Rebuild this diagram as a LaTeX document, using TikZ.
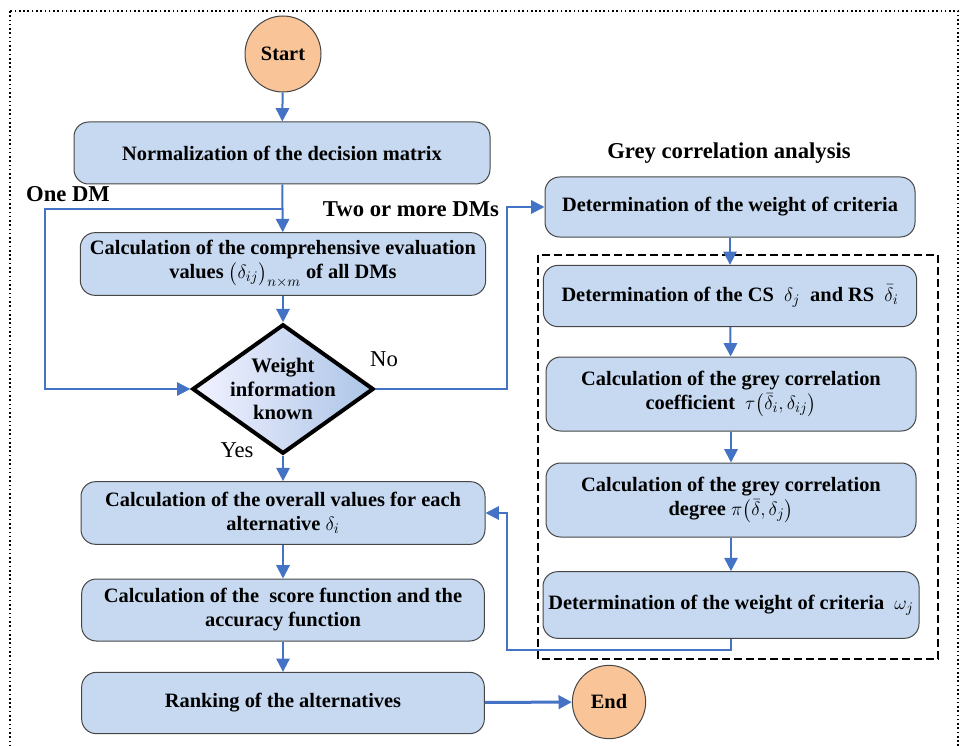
\documentclass[tikz,border=0pt]{standalone}
\usepackage{amsmath}
\usepackage{fontspec}
\setmainfont{Liberation Serif}
\usetikzlibrary{arrows.meta,shapes.geometric}

\definecolor{boxblue}{RGB}{198,217,240}
\definecolor{boxline}{RGB}{70,70,70}
\definecolor{linkblue}{RGB}{68,114,196}
\definecolor{termorange}{RGB}{248,196,152}

\tikzset{
  flowbox/.style={draw=boxline, fill=boxblue, rounded corners=11pt, line width=0.75pt,
    align=center, inner sep=2pt, font=\fontsize{15.3}{18}\selectfont\bfseries},
  terminal/.style={circle, draw=boxline, fill=termorange, line width=0.75pt, inner sep=0pt,
    font=\fontsize{15.3}{18}\selectfont\bfseries},
  decision/.style={diamond, draw=black, line width=3pt, left color=blue!5, right color=boxblue!80!linkblue,
    align=center, inner sep=-7pt, font=\fontsize{15.5}{17.5}\selectfont\bfseries},
  link/.style={draw=linkblue, line width=1.5pt, -{Triangle[length=10pt,width=10pt]}},
  plain/.style={font=\fontsize{17}{20}\selectfont},
  heading/.style={font=\fontsize{17}{20}\selectfont\bfseries},
}

\begin{document}
\begin{tikzpicture}[x=0.75pt,y=0.75pt,yscale=-1,xscale=1]
\useasboundingbox (0,0) rectangle (962,745);
%Dotted frame
\draw [dotted, line width=1.2pt] (10,11) rectangle (958,760);
%Dashed frame
\draw [dashed, line width=1.2pt, dash pattern=on 6pt off 3pt] (538,255) rectangle (938,659);

% Start / End
\draw (283,54) node [terminal, minimum size=57pt] (start) {Start};
\draw (609,702) node [terminal, minimum size=55pt] (end) {End};

%Rounded Rect (left column)
\draw (282,153) node [flowbox, minimum width=312pt, minimum height=46.5pt] (norm) {Normalization of the decision matrix};
\draw (283,264) node [flowbox, minimum width=304pt, minimum height=47pt] (comp) {Calculation of the comprehensive evaluation\\values $\bigl(\delta_{ij}\bigr)_{n\times m}$ of all DMs};
\draw (283,389) node [decision, minimum width=136pt, minimum height=81pt] (known) {Weight\\information\\known};
\draw (283,513) node [flowbox, minimum width=303pt, minimum height=47pt] (overall) {Calculation of the overall values for each\\alternative $\delta_i$};
\draw (283,610) node [flowbox, minimum width=302pt, minimum height=46.5pt] (score) {Calculation of the \ score function and the\\accuracy function};
\draw (283,703) node [flowbox, minimum width=302pt, minimum height=46pt] (rank) {Ranking of the alternatives};

%Rounded Rect (right column)
\draw (730,207) node [flowbox, minimum width=277.5pt, minimum height=45pt] (wdet) {Determination of the weight of criteria};
\draw (730,296) node [flowbox, minimum width=280pt, minimum height=46pt] (csrs) {Determination of the CS \ $\delta_j$ \ and RS \ $\bar{\delta}_i$};
\draw (731,394) node [flowbox, minimum width=277.5pt, minimum height=55.5pt] (coef) {Calculation of the grey correlation\\coefficient \ $\tau\bigl(\bar{\delta}_i,\delta_{ij}\bigr)$};
\draw (731,500) node [flowbox, minimum width=277.5pt, minimum height=55.5pt] (degree) {Calculation of the grey correlation\\degree $\pi\bigl(\bar{\delta},\delta_j\bigr)$};
\draw (731,605) node [flowbox, minimum width=282pt, minimum height=50pt] (omega) {Determination of the weight of criteria \ $\omega_j$};

% Text Node
\draw (68,194) node [heading] (onedm) {One DM};
\draw (411,209) node [heading] (moredm) {Two or more DMs};
\draw (729,153) node [heading] (grey) {Grey correlation analysis};
\draw (384,359) node [plain] (no) {No};
\draw (237,450) node [plain] (yes) {Yes};

% Branch points
\coordinate (split) at (283,209);
\coordinate (onebend) at (45,209);
\coordinate (nobend) at (507,389);
\coordinate (backbend) at (507,650);

%Straight Lines
\draw [link] (start) -- (norm);
\draw [link] (norm) -- (comp);
\draw [link] (split) -- (onebend) |- (known.west);
\draw [link] (comp) -- (known);
\draw [link] (known.east) -- (nobend) |- (wdet.west);
\draw [link] (known) -- (overall);
\draw [link] (overall) -- (score);
\draw [link] (score) -- (rank);
\draw [link, line width=2.25pt] (rank) -- (end);
\draw [link] (wdet) -- (csrs);
\draw [link] (csrs) -- (coef);
\draw [link] (coef) -- (degree);
\draw [link] (degree) -- (omega);
\draw [link] (omega.south) |- (backbend) |- (overall.east);
\end{tikzpicture}
\end{document}
